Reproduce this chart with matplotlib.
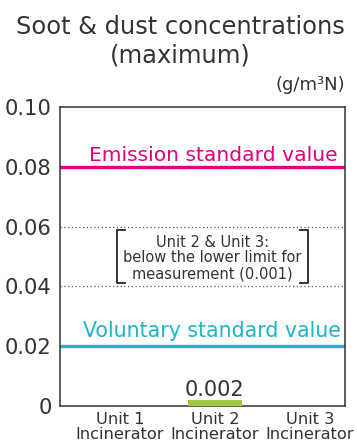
import matplotlib.pyplot as plt
from matplotlib.lines import Line2D

plt.rcParams['font.family'] = ['DejaVu Sans']

# data
units = ['Unit 1\nIncinerator', 'Unit 2\nIncinerator', 'Unit 3\nIncinerator']
values = [None, 0.002, None]
emission_std = 0.08
voluntary_std = 0.02
yticks = [0, 0.02, 0.04, 0.06, 0.08, 0.10]
ytick_labels = ['0', '0.02', '0.04', '0.06', '0.08', '0.10']

fig = plt.figure(figsize=(3.57, 4.43), dpi=100)
ax = fig.add_axes([0.1667, 0.0835, 0.7997, 0.675])

x = list(range(len(units)))
for xi, v in zip(x, values):
    if v is not None:
        ax.bar(xi, v, width=0.57, color='#a0c83c', zorder=3)
        ax.text(xi, v + 0.0013, f'{v:.3f}', ha='center', va='baseline',
                fontsize=15, color='#333333')

ax.axhline(emission_std, color='#e4007f', lw=2.4, zorder=2)
ax.axhline(voluntary_std, color='#1fb5c4', lw=2.4, zorder=2)
ax.text(0.98, emission_std + 0.002, 'Emission standard value', ha='center',
        va='baseline', fontsize=14.6, color='#e4007f')
ax.text(0.97, voluntary_std + 0.003, 'Voluntary standard value', ha='center',
        va='baseline', fontsize=14.8, color='#1fb5c4')

for yv in [0.04, 0.06]:
    ax.axhline(yv, color='#555555', lw=0.9, ls=(0, (1, 2)), zorder=1)

# note with brackets
ax.text(0.97, 0.0495, 'Unit 2 & Unit 3:\nbelow the lower limit for\nmeasurement (0.001)',
        ha='center', va='center', fontsize=10.5, color='#333333', linespacing=1.08,
        bbox=dict(facecolor='white', edgecolor='none', pad=1), zorder=4)
y0, y1 = 0.041, 0.0587
tr = ax.get_yaxis_transform()
for xb, d in [(0.202, 0.028), (0.871, -0.028)]:
    ax.add_line(Line2D([xb + d, xb, xb, xb + d], [y1, y1, y0, y0],
                       transform=tr, color='#333333', lw=1.4, zorder=5))

ax.set_xlim(-0.637, 2.37)
ax.set_ylim(0, 0.1)
ax.set_xticks(x)
ax.set_xticklabels(units, fontsize=11.7, color='#333333', linespacing=1.0)
ax.set_yticks(yticks)
ax.set_yticklabels(ytick_labels, fontsize=15.2, color='#333333')
ax.tick_params(length=0)
ax.tick_params(axis='x', pad=4)
ax.tick_params(axis='y', pad=5.5)
for s in ax.spines.values():
    s.set_color('#333333')
    s.set_linewidth(1.1)

fig.text(0.505, 0.9075, 'Soot & dust concentrations\n(maximum)', ha='center', va='center',
         fontsize=17.4, color='#333333', linespacing=1.25)
fig.text(0.966, 0.808, '(g/m³N)', ha='right', va='center', fontsize=13, color='#333333')

fig.savefig('out.png', dpi=100)
